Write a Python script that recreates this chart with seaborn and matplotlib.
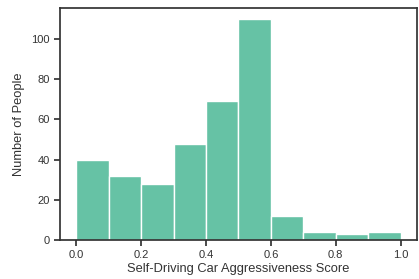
import numpy as np
import pandas as pd
import matplotlib
matplotlib.use("Agg")
import matplotlib.pyplot as plt
import seaborn as sns

bin_edges = [0.0, 0.1, 0.2, 0.3, 0.4, 0.5, 0.6, 0.7, 0.8, 0.9, 1.0]
bin_centers = [0.05, 0.15, 0.25, 0.35, 0.45, 0.55, 0.65, 0.75, 0.85, 0.95]
counts = [40, 32, 28, 48, 69, 110, 12, 4, 3, 4]

sns.set_theme(style="ticks")
plt.rcParams['font.family'] = ['Arial', 'Liberation Sans', 'DejaVu Sans']

df = pd.DataFrame({"score": bin_centers, "n": counts})

fig = plt.figure(figsize=(4.19, 2.79), dpi=100)
ax = fig.add_axes([0.143, 0.14, 0.852, 0.831])
sns.histplot(data=df, x="score", weights="n", bins=bin_edges, color="#66c2a5",
             alpha=1, edgecolor="white", linewidth=1, ax=ax)
ax.set_xlabel("Self-Driving Car Aggressiveness Score", fontsize=9.3, color="#333333", labelpad=2)
ax.set_ylabel("Number of People", fontsize=9.3, color="#333333")
ax.tick_params(labelsize=8, colors="#333333", length=4)
ax.set_xticks([0.0, 0.2, 0.4, 0.6, 0.8, 1.0])
ax.set_yticks([0, 20, 40, 60, 80, 100])
for s in ax.spines.values():
    s.set_color("#333333")
fig.savefig("out.png", dpi=100)
